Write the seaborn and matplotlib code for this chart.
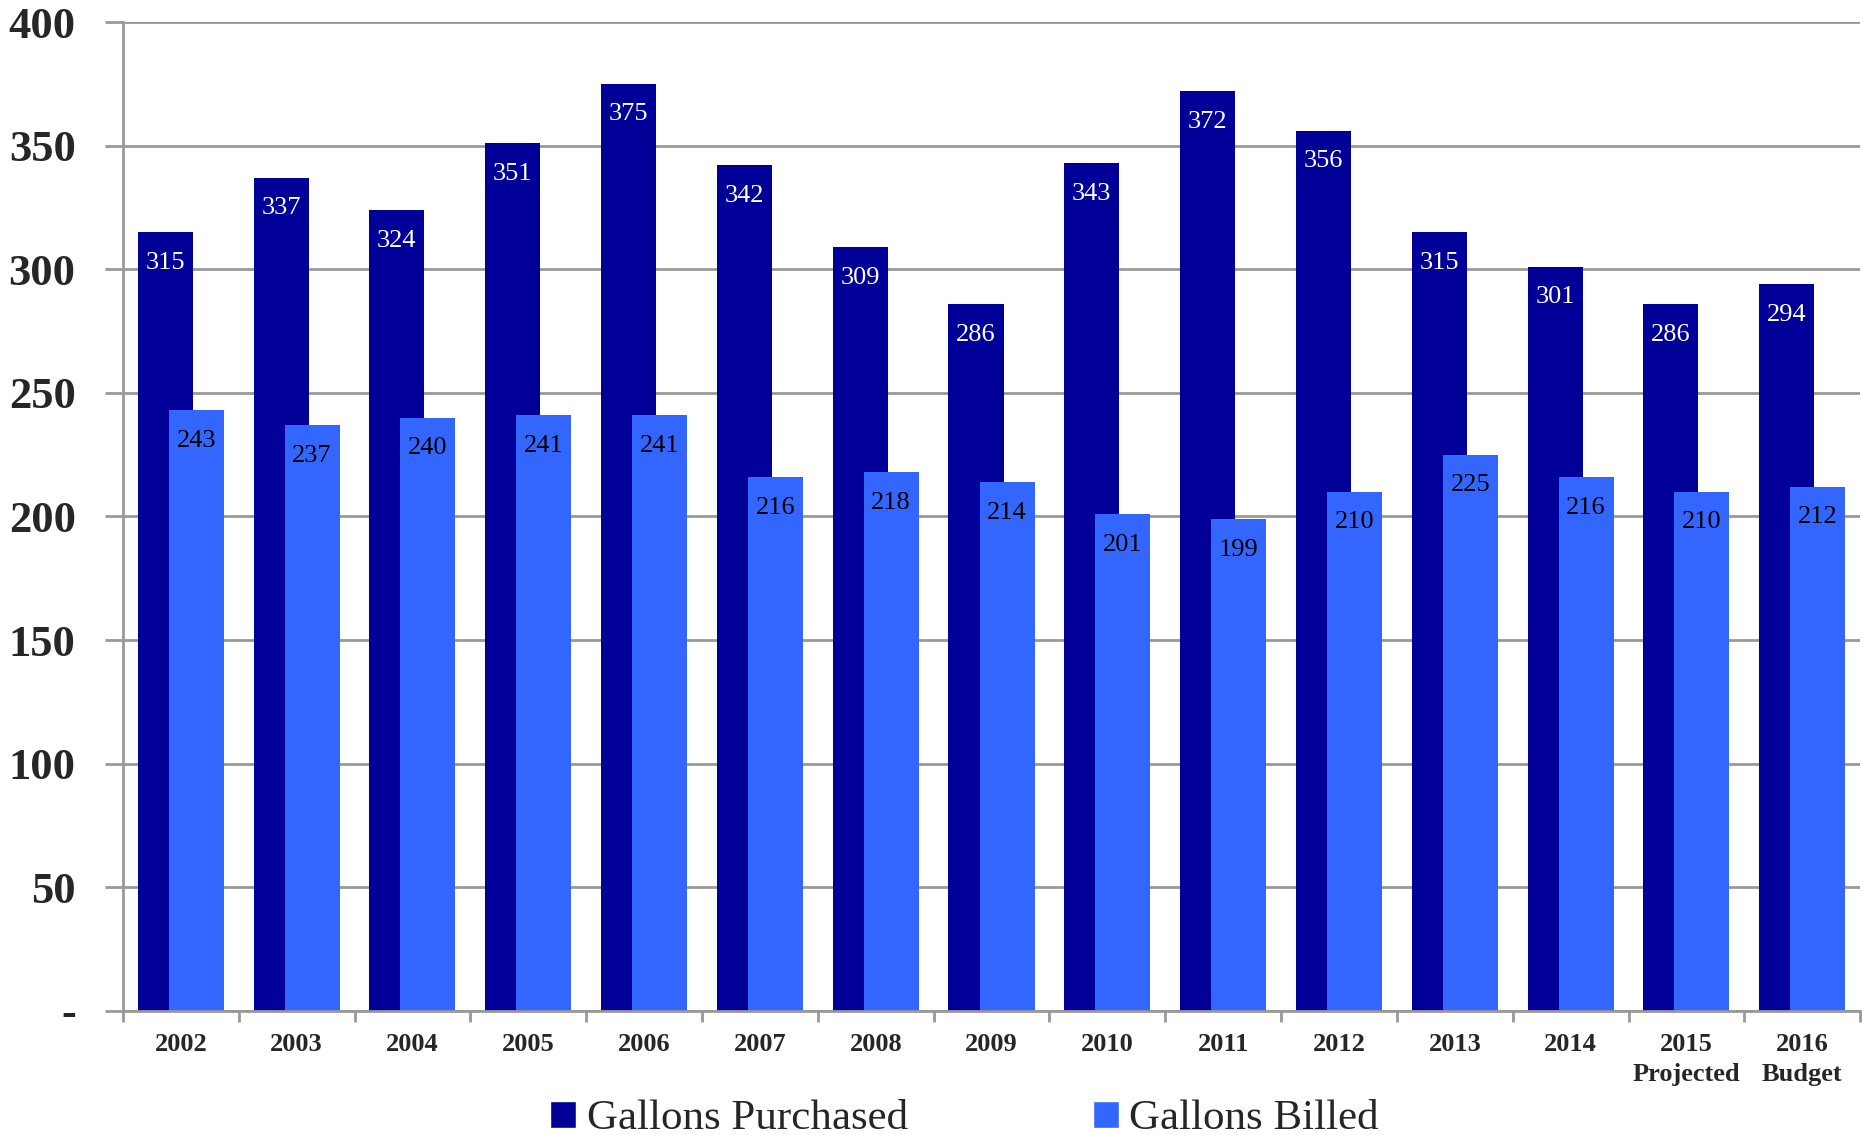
import numpy as np
import pandas as pd
import matplotlib
matplotlib.use("Agg")
import matplotlib.pyplot as plt
from matplotlib.patches import Patch
import seaborn as sns

years = ["2002", "2003", "2004", "2005", "2006", "2007", "2008", "2009", "2010",
         "2011", "2012", "2013", "2014", "2015\nProjected", "2016\nBudget"]
purchased = [315, 337, 324, 351, 375, 342, 309, 286, 343, 372, 356, 315, 301, 286, 294]
billed = [243, 237, 240, 241, 241, 216, 218, 214, 201, 199, 210, 225, 216, 210, 212]
yticks = [0, 50, 100, 150, 200, 250, 300, 350, 400]
ytick_labels = ["-", "50", "100", "150", "200", "250", "300", "350", "400"]

C_DARK = "#000099"
C_LIGHT = "#3366FF"
GRID = "#999999"

sns.set_theme(style="white")
plt.rcParams["font.family"] = ["Liberation Serif", "DejaVu Serif"]

fig = plt.figure(figsize=(18.62, 11.35), dpi=100)
ax = fig.add_axes([0.066, 0.1093, 0.933, 0.8713])

n = len(years)
idx = np.arange(n)
off = 0.134
w = 0.475
df_p = pd.DataFrame({"x": idx - off, "v": purchased})
df_b = pd.DataFrame({"x": idx + off, "v": billed})

sns.barplot(data=df_p, x="x", y="v", native_scale=True, width=w, color=C_DARK,
            saturation=1, ax=ax, zorder=3, linewidth=0)
sns.barplot(data=df_b, x="x", y="v", native_scale=True, width=w, color=C_LIGHT,
            saturation=1, ax=ax, zorder=4, linewidth=0)

ax.bar_label(ax.containers[0], labels=[str(v) for v in purchased], padding=-30,
             color="white", fontsize=19, zorder=5)
ax.bar_label(ax.containers[1], labels=[str(v) for v in billed], padding=-30,
             color="black", fontsize=19, zorder=6)

ax.set_xlim(-0.5, n - 0.5)
ax.set_ylim(0, 400)
ax.set_yticks(yticks)
ax.set_yticklabels(ytick_labels, fontsize=32, fontweight="bold")
ax.yaxis.grid(True, color=GRID, linewidth=2, zorder=0)
ax.set_axisbelow(True)
ax.tick_params(axis="y", length=13, width=2, color=GRID, pad=21, left=True)

ax.set_xticks(idx)
ax.set_xticklabels(years, fontsize=19, fontweight="bold", linespacing=1.4)
ax.set_xticks(np.arange(n + 1) - 0.5, minor=True)
ax.tick_params(axis="x", which="major", length=0, pad=16)
ax.tick_params(axis="x", which="minor", length=8, width=2, color=GRID, bottom=True)
ax.set_xlabel("")
ax.set_ylabel("")

for s in ["top", "right"]:
    ax.spines[s].set_visible(False)
for s in ["left", "bottom"]:
    ax.spines[s].set_color(GRID)
    ax.spines[s].set_linewidth(2)
    ax.spines[s].set_zorder(7)

handles = [Patch(facecolor=C_DARK, label="Gallons Purchased"),
           Patch(facecolor=C_LIGHT, label="Gallons Billed")]
fig.legend(handles=handles, loc="center", bbox_to_anchor=(0.518, 0.014), ncol=2,
           frameon=False, fontsize=31, handlelength=0.6, handleheight=0.6,
           handletextpad=0.25, columnspacing=4.3)

fig.savefig("out.png", dpi=100)
